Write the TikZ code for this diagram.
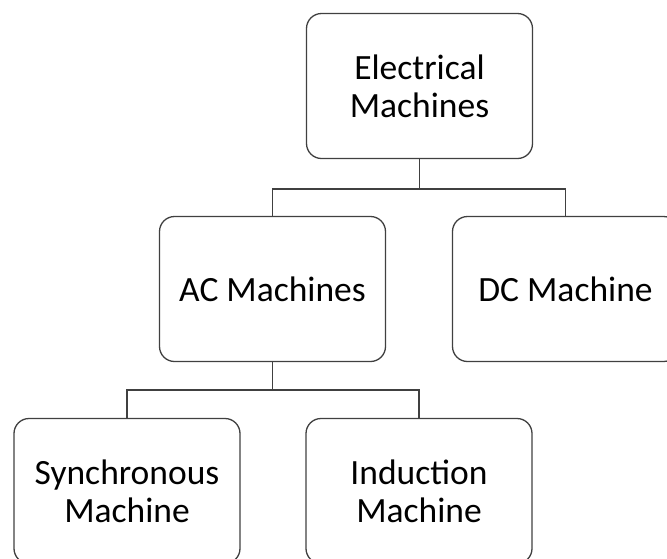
\documentclass[tikz,border=0pt]{standalone}
\usepackage{fontspec}
\setmainfont{Carlito}
\begin{document}
\begin{tikzpicture}[x=1pt,y=-1pt,
  box/.style={draw=black!75, line width=1.3pt, rounded corners=15pt,
    minimum width=226pt, minimum height=145pt, inner sep=0pt, align=center,
    font=\fontsize{35.5}{38}\selectfont},
  link/.style={draw=black!75, line width=1.2pt}]
\useasboundingbox (0,0) rectangle (667,558);
\node[box] (em)  at (419.5,86)  {Electrical\\Machines};
\node[box] (ac)  at (272.5,289) {AC Machines};
\node[box] (dc)  at (565.5,289) {DC Machine};
\node[box] (syn) at (127,491)   {Synchronous\\Machine};
\node[box] (ind) at (419,491)   {Induction\\Machine};
\coordinate (j1) at (419.5,189);
\coordinate (j2) at (272.5,390);
\draw[link] (em.south) -- (j1) -| (ac.north);
\draw[link] (j1) -| (dc.north);
\draw[link] (ac.south) -- (j2) -| (syn.north);
\draw[link] (j2) -| (ind.north);
\end{tikzpicture}
\end{document}
